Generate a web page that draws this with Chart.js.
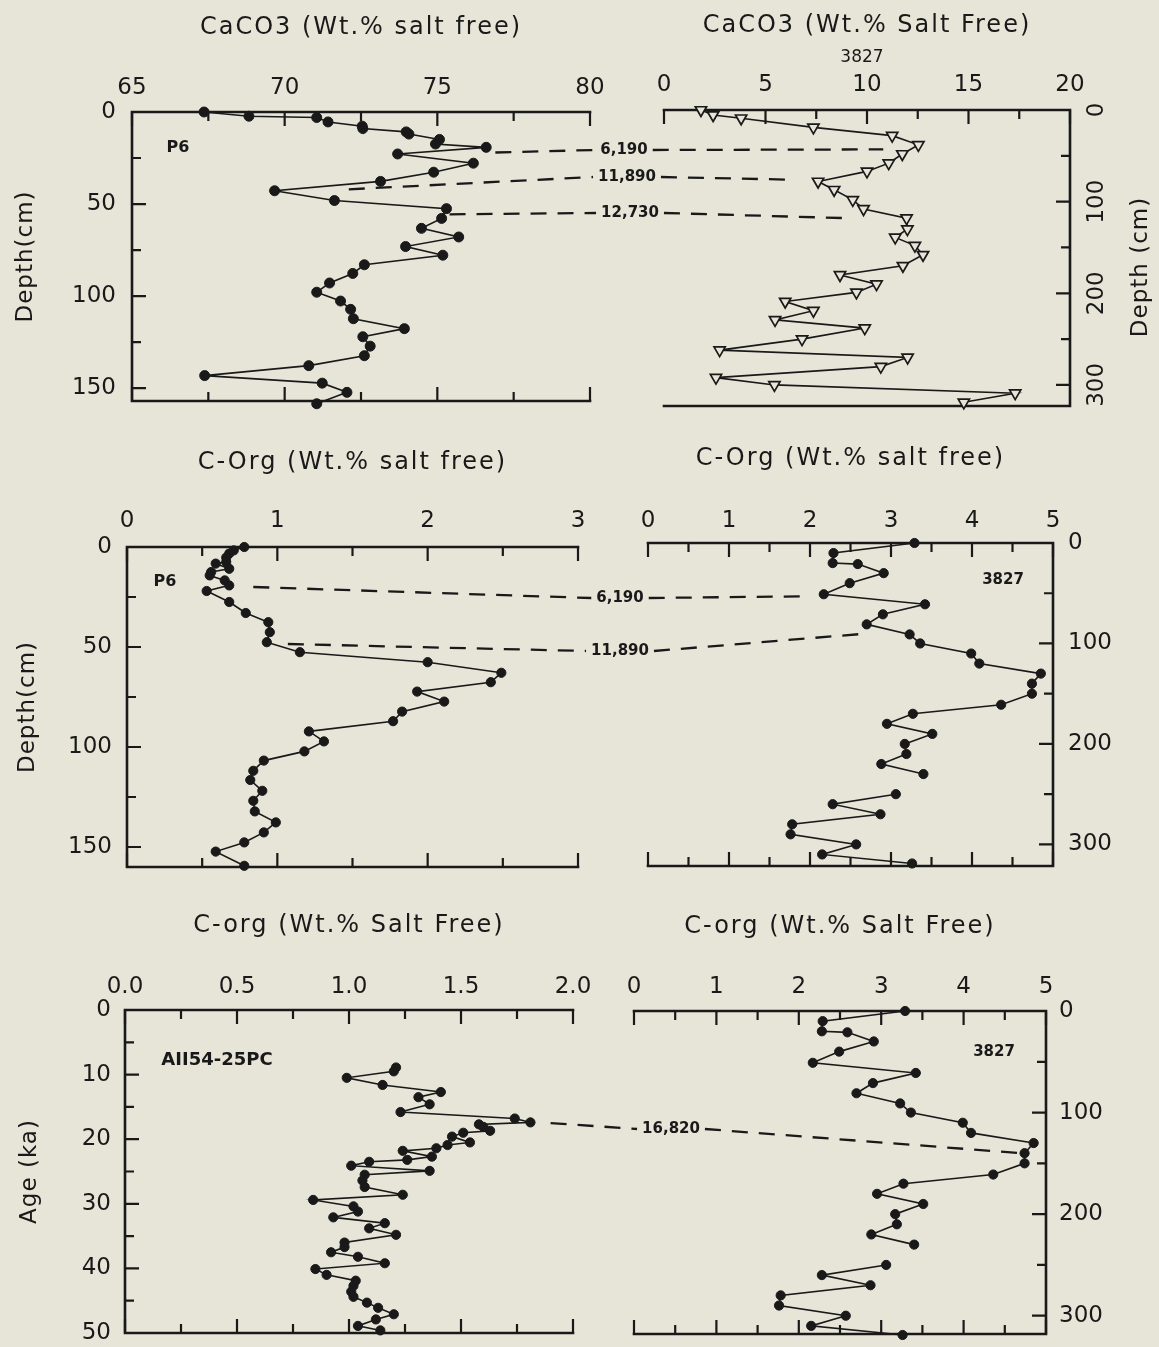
<!DOCTYPE html>
<html lang="en">
<head>
<meta charset="UTF-8">
<title>CaCO3 and C-org profiles: P6, 3827, AII54-25PC</title>
<script src="https://cdn.jsdelivr.net/npm/chart.js"></script>
<style>
  html, body { margin: 0; padding: 0; }
  body { width: 1159px; height: 1347px; background: #e7e5d8; position: relative; overflow: hidden; }
  canvas { position: absolute; }
</style>
</head>
<body>
<script>
// ---- data ----
// core P6, CaCO3 (wt.% salt free) against depth (cm)
const p6CarbDepth = [0, 2.3, 3, 5.4, 7.7, 9, 10.8, 12, 14.9, 17.4, 19.2, 22.8, 27.8, 32.7, 37.7, 42.8, 48.1, 52.5, 57.8, 63.2,
  67.9, 73.1, 77.8, 83, 87.7, 92.9, 97.9, 102.7, 107.2, 112.3, 117.7, 122.1, 127.2, 132.4, 137.8, 143.2, 147.3, 152.3, 158.5];
const p6CarbPct = [67.36, 68.83, 71.05, 71.42, 72.54, 72.56, 73.98, 74.07, 75.07, 74.94, 76.6, 73.7, 76.18, 74.88, 73.14, 69.67,
  71.63, 75.3, 75.14, 74.48, 75.7, 73.96, 75.18, 72.61, 72.23, 71.47, 71.05, 71.83, 72.16, 72.25, 73.92, 72.56, 72.8, 72.61,
  70.79, 67.38, 71.23, 72.04, 71.05];

// core 3827, CaCO3
const k3827CarbDepth = [0, 5.5, 9, 19, 28, 38, 48, 58, 67, 78, 87, 98, 108, 118, 130, 139, 148, 158, 170, 180, 190, 199, 209,
  219, 229, 238, 250, 262, 270, 280, 292, 300, 309, 319];
const k3827CarbPct = [1.82, 2.42, 3.8, 7.36, 11.24, 12.53, 11.74, 11.07, 10.0, 7.59, 8.38, 9.3, 9.83, 11.95, 11.99, 11.39, 12.36,
  12.76, 11.77, 8.67, 10.47, 9.48, 5.97, 7.36, 5.47, 9.89, 6.8, 2.74, 12.0, 10.68, 2.56, 5.44, 17.3, 14.77];

// core P6, organic carbon
const p6OrgDepth = [0, 1.7, 3.3, 5.3, 7.5, 8.3, 10.9, 12.5, 14.2, 16.7, 19.2, 22, 27.5, 33, 37.6, 42.6, 47.6, 52.6, 57.6, 62.9,
  67.6, 72.3, 77.3, 82.3, 87.1, 92.2, 97.2, 102.2, 106.8, 111.9, 116.5, 121.9, 126.9, 132.2, 137.7, 142.7, 147.7, 152.3, 159.4];
const p6OrgPct = [0.78, 0.71, 0.68, 0.66, 0.66, 0.59, 0.68, 0.56, 0.55, 0.65, 0.68, 0.53, 0.68, 0.79, 0.94, 0.95, 0.93, 1.15,
  2.0, 2.49, 2.42, 1.93, 2.11, 1.83, 1.77, 1.21, 1.31, 1.18, 0.91, 0.84, 0.82, 0.9, 0.84, 0.85, 0.99, 0.91, 0.78, 0.59, 0.78];

// core 3827, organic carbon (null = no sample there, the line breaks)
const k3827OrgDepth = [0, 10, 20, 21, 30, 40, 51, 61, 71, 81, 91, 100, 110, 120, 130, 140, 150, 161, 170, 180, 190, 200, 210,
  220, 230, 240, 250, 260, 270, 280, 290, 300, 310, 319];
const k3827OrgPct = [3.29, 2.29, 2.28, 2.59, 2.91, 2.49, 2.17, 3.42, 2.9, 2.7, 3.23, 3.36, 3.99, 4.09, 4.85, 4.74, 4.74, 4.36,
  3.27, 2.95, 3.51, 3.17, 3.19, 2.88, 3.4, null, 3.06, 2.28, 2.87, 1.78, 1.76, 2.57, 2.15, 3.26];

// core AII54-25PC, organic carbon against age (ka)
const aiiAge = [8.9, 9.5, 10.5, 11.6, 12.7, 13.5, 14.6, 15.8, 16.8, 17.4, 17.7, 18.1, 18.7, 19.0, 19.6, 20.5, 20.9, 21.4, 21.8,
  22.7, 23.2, 23.5, 24.1, 24.9, 25.5, 26.4, 27.4, 28.6, 29.4, 30.4, 31.2, 32.1, 33.0, 33.8, 34.8, 36.0, 36.7, 37.5, 38.2, 39.2,
  40.1, 41.0, 41.9, 42.7, 43.6, 44.4, 45.3, 46.1, 47.1, 47.9, 48.9, 49.6];
const aiiOrgPct = [1.21, 1.2, 0.99, 1.15, 1.41, 1.31, 1.36, 1.23, 1.74, 1.81, 1.58, 1.6, 1.63, 1.51, 1.46, 1.54, 1.44, 1.39,
  1.24, 1.37, 1.26, 1.09, 1.01, 1.36, 1.07, 1.06, 1.07, 1.24, 0.84, 1.02, 1.04, 0.93, 1.16, 1.09, 1.21, 0.98, 0.98, 0.92, 1.04,
  1.16, 0.85, 0.9, 1.03, 1.02, 1.01, 1.02, 1.08, 1.13, 1.2, 1.12, 1.04, 1.14];

// labelled ticks of each axis
const carbP6Ticks = [65, 70, 75, 80];
const carb3827Ticks = [0, 5, 10, 15, 20];
const orgP6Ticks = [0, 1, 2, 3];
const org3827Ticks = [0, 1, 2, 3, 4, 5];
const orgAiiTicks = [0, 0.5, 1, 1.5, 2];
const depthP6Ticks = [0, 50, 100, 150];
const depth3827Ticks = [0, 100, 200, 300];
const ageTicks = [0, 10, 20, 30, 40, 50];

// radiocarbon ties (yr BP): value and depth/age where each dashed line meets a core
const carbTieLabel = ['6,190', '11,890', '12,730'];
const carbTieP6 = [76.9, 72.1, 75.4];
const carbTieP6Depth = [22, 42, 55.6];
const carbTie3827 = [10.8, 6.2, 9.0];
const carbTie3827Depth = [43, 76, 118];
const orgTieLabel = ['6,190', '11,890'];
const orgTieP6 = [0.84, 1.07];
const orgTieP6Depth = [20, 48.5];
const orgTie3827 = [2.0, 2.72];
const orgTie3827Depth = [53, 90];
const ageTieLabel = ['16,820'];
const ageTieAii = [1.9];
const ageTieAiiAge = [17.5];
const ageTie3827 = [4.7];
const ageTie3827Depth = [140];

// ---- drawing ----
const ink = '#191919';
const paper = '#e7e5d8';
const FONT = "'DejaVu Sans', sans-serif";
const PAGE_W = 1159, PAGE_H = 1347;
const TICK_SIZE = 23;
Chart.defaults.font.family = FONT;
Chart.defaults.color = ink;

const near = (v, list) => list.some(t => Math.abs(t - v) < 1e-6);
const series = (vals, depths) => vals.map((v, i) => ({ x: v, y: depths[i] }));

const dotStyle = {
  showLine: true, borderColor: ink, borderWidth: 1.6, tension: 0, clip: false,
  pointRadius: 4.6, pointBackgroundColor: ink, pointBorderColor: ink, pointBorderWidth: 1
};
const triStyle = {
  showLine: true, borderColor: ink, borderWidth: 1.6, tension: 0, clip: false,
  pointStyle: 'triangle', pointRotation: 180, pointRadius: 6.5,
  pointBackgroundColor: paper, pointBorderColor: ink, pointBorderWidth: 1.7
};

const panelOf = new Map();

// open frame (axis side + top + bottom) with inward ticks, headings and tags
const framePlugin = {
  id: 'frame',
  beforeDatasetsDraw(chart) {
    const p = panelOf.get(chart.canvas);
    const { ctx, chartArea: a, scales: { x, y } } = chart;
    const sx = p.side === 'left' ? a.left : a.right;
    const dir = p.side === 'left' ? 1 : -1;
    ctx.save();
    ctx.strokeStyle = ink;
    ctx.lineWidth = 2.6;
    ctx.lineCap = 'square';
    ctx.beginPath();
    ctx.moveTo(a.left, a.top); ctx.lineTo(a.right, a.top);
    ctx.moveTo(a.left, a.bottom); ctx.lineTo(a.right, a.bottom);
    ctx.moveTo(sx, a.top); ctx.lineTo(sx, a.bottom);
    ctx.stroke();
    ctx.lineWidth = 2.2;
    ctx.lineCap = 'butt';
    ctx.beginPath();
    x.ticks.forEach(t => {
      const px = x.getPixelForValue(t.value);
      const len = near(t.value, p.xLabels) ? 14 : 9;
      ctx.moveTo(px, a.top); ctx.lineTo(px, a.top + len);
      if (p.bottomTicks) { ctx.moveTo(px, a.bottom); ctx.lineTo(px, a.bottom - len); }
    });
    y.ticks.forEach(t => {
      const py = y.getPixelForValue(t.value);
      const len = near(t.value, p.yLabels) ? 14 : 9;
      ctx.moveTo(sx, py); ctx.lineTo(sx + dir * len, py);
    });
    ctx.stroke();
    ctx.restore();
  },
  afterDraw(chart) {
    const p = panelOf.get(chart.canvas);
    const { ctx, chartArea: a, scales: { y } } = chart;
    ctx.save();
    ctx.fillStyle = ink;
    ctx.textAlign = 'center';
    ctx.textBaseline = 'middle';
    ctx.font = `24px ${FONT}`;
    ctx.letterSpacing = '2px';
    ctx.fillText(p.title, (a.left + a.right) / 2, a.top - 84);
    if (p.yTitle) {
      ctx.font = `23px ${FONT}`;
      ctx.letterSpacing = '1px';
      ctx.save();
      ctx.translate(p.side === 'left' ? a.left - p.yTitleGap : a.right + p.yTitleGap, (a.top + a.bottom) / 2 + (p.yTitleShift || 0));
      ctx.rotate(-Math.PI / 2);
      ctx.fillText(p.yTitle, 0, 0);
      ctx.restore();
    }
    ctx.letterSpacing = '0px';
    if (p.rotatedYLabels) {
      ctx.font = `${TICK_SIZE}px ${FONT}`;
      y.ticks.forEach(t => {
        if (!near(t.value, p.yLabels)) return;
        ctx.save();
        ctx.translate(a.right + 27, y.getPixelForValue(t.value));
        ctx.rotate(-Math.PI / 2);
        ctx.fillText(String(t.value), 0, 0);
        ctx.restore();
      });
    }
    (p.tags || []).forEach(tg => {
      ctx.font = tg.font;
      ctx.fillText(tg.text, a.left + tg.dx, a.top + tg.dy);
    });
    ctx.restore();
  }
};

function makePanel(p) {
  const cv = document.createElement('canvas');
  const left = p.side === 'left' ? 0 : p.box.l - 36;
  const right = p.side === 'left' ? p.box.r + 40 : PAGE_W;
  const top = p.canvasTop, bottom = p.box.b + 30;
  cv.width = right - left;
  cv.height = bottom - top;
  cv.style.left = left + 'px';
  cv.style.top = top + 'px';
  document.body.appendChild(cv);
  panelOf.set(cv, p);
  const padL = p.box.l - left, padR = right - p.box.r, padT = p.box.t - top, padB = bottom - p.box.b;
  const chart = new Chart(cv, {
    type: 'scatter',
    data: { datasets: p.datasets },
    options: {
      responsive: false,
      animation: false,
      devicePixelRatio: 1,
      layout: { padding: p.side === 'left' ? { right: padR, bottom: padB } : { left: padL, bottom: padB } },
      plugins: { legend: { display: false }, tooltip: { enabled: false } },
      scales: {
        x: {
          type: 'linear', position: 'top', min: p.xMin, max: p.xMax,
          grid: { display: false, drawTicks: false }, border: { display: false },
          ticks: {
            stepSize: p.xStep, autoSkip: false, maxRotation: 0, includeBounds: false,
            padding: p.xPad, font: { size: TICK_SIZE }, color: ink,
            callback: v => near(v, p.xLabels) ? p.xFmt(v) : ''
          },
          afterFit: s => { s.height = padT; }
        },
        y: {
          type: 'linear', position: p.side, reverse: true, min: 0, max: p.yMax,
          grid: { display: false, drawTicks: false }, border: { display: false },
          ticks: {
            display: !p.rotatedYLabels,
            stepSize: p.yStep, autoSkip: false, includeBounds: false,
            padding: p.yPad, font: { size: TICK_SIZE }, color: ink,
            callback: v => near(v, p.yLabels) ? String(v) : ''
          },
          afterFit: s => { s.width = p.side === 'left' ? padL : padR; }
        }
      }
    },
    plugins: [framePlugin]
  });
  chart.$left = left;
  chart.$top = top;
  return chart;
}

const intFmt = v => String(v);
const oneDec = v => v.toFixed(1);

const carbP6 = makePanel({
  box: { l: 132, t: 112, r: 590, b: 401 }, canvasTop: 0, side: 'left',
  xMin: 65, xMax: 80, xStep: 2.5, xLabels: carbP6Ticks, xFmt: intFmt, xPad: 10,
  yMax: 157, yStep: 25, yLabels: depthP6Ticks, yPad: 16, bottomTicks: true,
  title: 'CaCO3 (Wt.% salt free)', yTitle: 'Depth(cm)', yTitleGap: 106,
  tags: [{ text: 'P6', dx: 46, dy: 36, font: `bold 16px ${FONT}` }],
  datasets: [{ ...dotStyle, pointRadius: 5, data: series(p6CarbPct, p6CarbDepth) }]
});

const carb3827 = makePanel({
  box: { l: 664, t: 110, r: 1070, b: 406 }, canvasTop: 0, side: 'right',
  xMin: 0, xMax: 20, xStep: 2.5, xLabels: carb3827Ticks, xFmt: intFmt, xPad: 11,
  yMax: 323, yStep: 50, yLabels: depth3827Ticks, yPad: 14, bottomTicks: false, rotatedYLabels: true,
  title: 'CaCO3 (Wt.% Salt Free)', yTitle: 'Depth (cm)', yTitleGap: 71, yTitleShift: 9,
  tags: [{ text: '3827', dx: 198, dy: -52, font: `17px ${FONT}` }],
  datasets: [{ ...triStyle, data: series(k3827CarbPct, k3827CarbDepth) }]
});

const orgP6 = makePanel({
  box: { l: 127, t: 547, r: 578, b: 867 }, canvasTop: 440, side: 'left',
  xMin: 0, xMax: 3, xStep: 0.5, xLabels: orgP6Ticks, xFmt: intFmt, xPad: 12,
  yMax: 160, yStep: 25, yLabels: depthP6Ticks, yPad: 15, bottomTicks: true,
  title: 'C-Org (Wt.% salt free)', yTitle: 'Depth(cm)', yTitleGap: 99,
  tags: [{ text: 'P6', dx: 38, dy: 35, font: `bold 16px ${FONT}` }],
  datasets: [{ ...dotStyle, data: series(p6OrgPct, p6OrgDepth) }]
});

const org3827 = makePanel({
  box: { l: 648, t: 543, r: 1053, b: 866 }, canvasTop: 440, side: 'right',
  xMin: 0, xMax: 5, xStep: 0.5, xLabels: org3827Ticks, xFmt: intFmt, xPad: 8,
  yMax: 321.5, yStep: 50, yLabels: depth3827Ticks, yPad: 15, bottomTicks: true,
  title: 'C-Org (Wt.% salt free)',
  tags: [{ text: '3827', dx: 355, dy: 37, font: `bold 15px ${FONT}` }],
  datasets: [{ ...dotStyle, data: series(k3827OrgPct, k3827OrgDepth) }]
});

const orgAii = makePanel({
  box: { l: 125, t: 1010, r: 573, b: 1333 }, canvasTop: 900, side: 'left',
  xMin: 0, xMax: 2, xStep: 0.25, xLabels: orgAiiTicks, xFmt: oneDec, xPad: 9,
  yMax: 50, yStep: 5, yLabels: ageTicks, yPad: 14, bottomTicks: true,
  title: 'C-org (Wt.% Salt Free)', yTitle: 'Age (ka)', yTitleGap: 95,
  tags: [{ text: 'AII54-25PC', dx: 92, dy: 50, font: `bold 18px ${FONT}` }],
  datasets: [{ ...dotStyle, data: series(aiiOrgPct, aiiAge) }]
});

const org3827b = makePanel({
  box: { l: 634, t: 1011, r: 1046, b: 1334 }, canvasTop: 900, side: 'right',
  xMin: 0, xMax: 5, xStep: 0.5, xLabels: org3827Ticks, xFmt: intFmt, xPad: 10,
  yMax: 318, yStep: 50, yLabels: depth3827Ticks, yPad: 13, bottomTicks: true,
  title: 'C-org (Wt.% Salt Free)',
  tags: [{ text: '3827', dx: 360, dy: 41, font: `bold 15px ${FONT}` }],
  datasets: [{ ...dotStyle, data: series(k3827OrgPct, k3827OrgDepth) }]
});

// dashed tie lines between cores, drawn on a page-wide overlay
const ov = document.createElement('canvas');
ov.width = PAGE_W; ov.height = PAGE_H;
ov.style.left = '0px'; ov.style.top = '0px'; ov.style.zIndex = 5;
document.body.appendChild(ov);
const octx = ov.getContext('2d');

const at = (chart, v, d) => [chart.$left + chart.scales.x.getPixelForValue(v), chart.$top + chart.scales.y.getPixelForValue(d)];

function dashed(a, b) {
  octx.beginPath();
  octx.moveTo(a[0], a[1]);
  octx.lineTo(b[0], b[1]);
  octx.stroke();
}

function drawTies(labels, leftChart, lv, ld, rightChart, rv, rd, labelPos) {
  labels.forEach((lab, i) => {
    const a = at(leftChart, lv[i], ld[i]);
    const b = at(rightChart, rv[i], rd[i]);
    const [cx, cy] = labelPos[i];
    octx.font = `bold 15px ${FONT}`;
    const w = octx.measureText(lab).width;
    octx.fillStyle = ink;
    octx.textAlign = 'center';
    octx.textBaseline = 'middle';
    octx.fillText(lab, cx, cy);
    octx.strokeStyle = ink;
    octx.lineWidth = 2.3;
    octx.setLineDash([16, 11]);
    dashed(a, [cx - w / 2 - 5, cy]);
    dashed([cx + w / 2 + 5, cy], b);
  });
}

drawTies(carbTieLabel, carbP6, carbTieP6, carbTieP6Depth, carb3827, carbTie3827, carbTie3827Depth,
  [[624, 150], [627, 177], [630, 213]]);
drawTies(orgTieLabel, orgP6, orgTieP6, orgTieP6Depth, org3827, orgTie3827, orgTie3827Depth,
  [[620, 598], [620, 651]]);
drawTies(ageTieLabel, orgAii, ageTieAii, ageTieAiiAge, org3827b, ageTie3827, ageTie3827Depth,
  [[671, 1129]]);
</script>
</body>
</html>
